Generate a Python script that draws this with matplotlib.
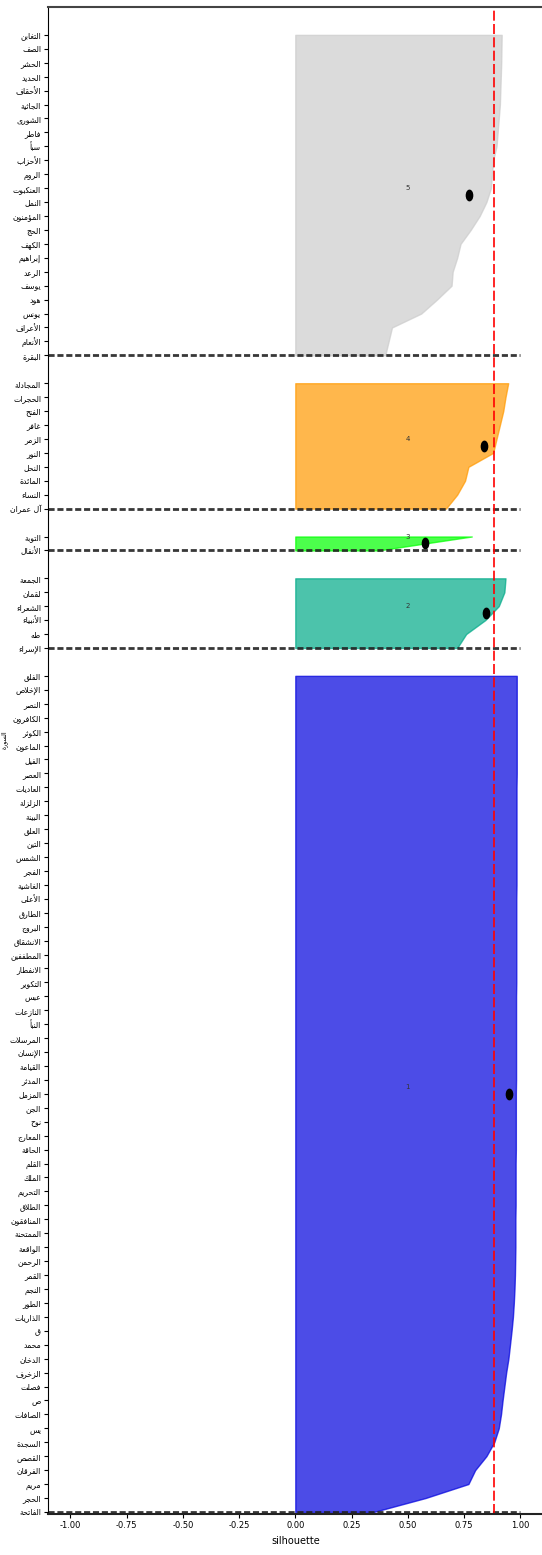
import numpy as np
import matplotlib
matplotlib.use("Agg")
import matplotlib.pyplot as plt
from matplotlib import cm
from matplotlib.path import Path

# ---------------- data (bottom -> top inside each cluster) ----------------
cluster_ids = [1, 2, 3, 4, 5]

names_c1 = ["الفاتحة", "الحجر", "مريم", "الفرقان", "القصص", "السجدة", "يس", "الصافات",
            "ص", "فصلت", "الزخرف", "الدخان", "محمد", "ق", "الذاريات", "الطور", "النجم",
            "القمر", "الرحمن", "الواقعة", "الممتحنة", "المنافقون", "الطلاق", "التحريم",
            "الملك", "القلم", "الحاقة", "المعارج", "نوح", "الجن", "المزمل", "المدثر",
            "القيامة", "الإنسان", "المرسلات", "النبأ", "النازعات", "عبس", "التكوير",
            "الانفطار", "المطففين", "الانشقاق", "البروج", "الطارق", "الأعلى", "الغاشية",
            "الفجر", "الشمس", "التين", "العلق", "البينة", "الزلزلة", "العاديات", "العصر",
            "الفيل", "الماعون", "الكوثر", "الكافرون", "النصر", "الإخلاص", "الفلق"]
names_c2 = ["الإسراء", "طه", "الأنبياء", "الشعراء", "لقمان", "الجمعة"]
names_c3 = ["الأنفال", "التوبة"]
names_c4 = ["آل عمران", "النساء", "المائدة", "النحل", "النور", "الزمر", "غافر", "الفتح",
            "الحجرات", "المجادلة"]
names_c5 = ["البقرة", "الأنعام", "الأعراف", "يونس", "هود", "يوسف", "الرعد", "إبراهيم",
            "الكهف", "الحج", "المؤمنون", "النمل", "العنكبوت", "الروم", "الأحزاب", "سبأ",
            "فاطر", "الشورى", "الجاثية", "الأحقاف", "الحديد", "الحشر", "الصف", "التغابن"]

sil_c1 = [0.35, 0.58, 0.77, 0.80, 0.85, 0.885, 0.905, 0.915, 0.922, 0.93, 0.938, 0.948,
          0.955, 0.962, 0.968, 0.972, 0.975, 0.977, 0.978, 0.979, 0.979, 0.979, 0.980,
          0.980, 0.980, 0.980, 0.981, 0.981, 0.981, 0.981, 0.981, 0.982, 0.982, 0.982,
          0.982, 0.982, 0.982, 0.982, 0.983, 0.983, 0.983, 0.983, 0.983, 0.983, 0.983,
          0.984, 0.984, 0.984, 0.984, 0.984, 0.984, 0.984, 0.984, 0.985, 0.985, 0.985,
          0.985, 0.985, 0.985, 0.985, 0.985]
sil_c2 = [0.72, 0.76, 0.845, 0.905, 0.93, 0.935]
sil_c3 = [0.37, 0.785]
sil_c4 = [0.67, 0.72, 0.755, 0.77, 0.88, 0.895, 0.91, 0.925, 0.935, 0.947]
sil_c5 = [0.40, 0.415, 0.43, 0.56, 0.63, 0.695, 0.70, 0.72, 0.735, 0.78, 0.82, 0.85,
          0.87, 0.875, 0.88, 0.895, 0.90, 0.905, 0.91, 0.912, 0.914, 0.916, 0.917, 0.918]

names_all = [names_c1, names_c2, names_c3, names_c4, names_c5]
sil_all = [sil_c1, sil_c2, sil_c3, sil_c4, sil_c5]

# ---------------- minimal Arabic shaping (presentation forms + RTL) ----------------
RIGHT_JOIN = {'\u0622': 0xFE81, '\u0623': 0xFE83, '\u0624': 0xFE85, '\u0625': 0xFE87,
              '\u0627': 0xFE8D, '\u0629': 0xFE93, '\u062F': 0xFEA9, '\u0630': 0xFEAB,
              '\u0631': 0xFEAD, '\u0632': 0xFEAF, '\u0648': 0xFEED, '\u0649': 0xFEEF}
DUAL_JOIN = {'\u0626': 0xFE89, '\u0628': 0xFE8F, '\u062A': 0xFE95, '\u062B': 0xFE99,
             '\u062C': 0xFE9D, '\u062D': 0xFEA1, '\u062E': 0xFEA5, '\u0633': 0xFEB1,
             '\u0634': 0xFEB5, '\u0635': 0xFEB9, '\u0636': 0xFEBD, '\u0637': 0xFEC1,
             '\u0638': 0xFEC5, '\u0639': 0xFEC9, '\u063A': 0xFECD, '\u0641': 0xFED1,
             '\u0642': 0xFED5, '\u0643': 0xFED9, '\u0644': 0xFEDD, '\u0645': 0xFEE1,
             '\u0646': 0xFEE5, '\u0647': 0xFEE9, '\u064A': 0xFEF1}
LAM_ALEF = {'\u0622': 0xFEF5, '\u0623': 0xFEF7, '\u0625': 0xFEF9, '\u0627': 0xFEFB}


def shape(text):
    chars = list(text)
    out = []
    prev_connects = False
    i = 0
    while i < len(chars):
        c = chars[i]
        nxt = chars[i + 1] if i + 1 < len(chars) else None
        if c == '\u0644' and nxt in LAM_ALEF:
            out.append(chr(LAM_ALEF[nxt] + (1 if prev_connects else 0)))
            prev_connects = False
            i += 2
            continue
        if c in DUAL_JOIN or c in RIGHT_JOIN:
            base = DUAL_JOIN.get(c, RIGHT_JOIN.get(c))
            can_next = (c in DUAL_JOIN and nxt is not None
                        and (nxt in DUAL_JOIN or nxt in RIGHT_JOIN))
            if prev_connects and can_next:
                form = 3
            elif prev_connects:
                form = 1
            elif can_next:
                form = 2
            else:
                form = 0
            out.append(chr(base + form))
            prev_connects = can_next
        else:
            out.append(c)
            prev_connects = False
        i += 1
    return ''.join(reversed(out))


# ---------------- figure ----------------
plt.rcParams['font.family'] = ['DejaVu Sans']
fig = plt.figure(figsize=(5.42, 15.55), dpi=100)
ax = fig.add_axes([48 / 542, 1 - 1514 / 1555, 494.6 / 542, (1514 - 7) / 1555])

ellipse = Path.unit_circle()
ellipse = Path(ellipse.vertices * np.array([0.6, 1.0]), ellipse.codes)

tick_pos = []
tick_lab = []
y_lower = 0
for k, names, vals in zip(cluster_ids, names_all, sil_all):
    n = len(vals)
    y_upper = y_lower + n
    ys = np.arange(y_lower, y_upper)
    color = cm.nipy_spectral(float(k) / len(cluster_ids))
    ax.fill_betweenx(ys, 0, vals, facecolor=color, edgecolor=color, alpha=0.7)
    ax.text(0.5, y_lower + 0.5 * n, str(k), fontsize=5, color='#333333',
            ha='center', va='center')
    ax.plot([np.mean(vals)], [np.mean(ys)], linestyle='none', marker=ellipse,
            markersize=7.5, color='black')
    ax.hlines(y_lower, -1.1, 1.0, colors='#222222', linestyles=(0, (2.2, 1.0)),
              linewidth=2.0, alpha=0.9)
    tick_pos.extend(list(ys))
    tick_lab.extend([shape(s) for s in names])
    y_lower = y_upper + 1

avg = np.mean(np.concatenate([np.asarray(v) for v in sil_all]))
ax.axvline(avg, color='red', linestyle=(0, (6, 2)), linewidth=1.2)

ax.set_xlim(-1.1, 1.1)
ax.set_ylim(-0.15, 108)
ax.set_yticks(tick_pos)
ax.set_yticklabels(tick_lab, fontsize=5.6)
ax.set_xticks([-1.0, -0.75, -0.5, -0.25, 0.0, 0.25, 0.5, 0.75, 1.0])
ax.set_xticklabels(['-1.00', '-0.75', '-0.50', '-0.25', '0.00', '0.25', '0.50', '0.75', '1.00'],
                   fontsize=6)
ax.tick_params(axis='both', length=3, width=0.8, pad=2)
ax.set_xlabel('silhouette', fontsize=7, labelpad=4)
ax.set_ylabel(shape('السورة'), fontsize=4.5)
ax.yaxis.set_label_coords(-0.082, 0.514)
ax.spines['top'].set_linewidth(1.5)
ax.spines['top'].set_color('#444444')
ax.spines['bottom'].set_linewidth(1.5)
ax.spines['bottom'].set_color('#222222')
ax.spines['left'].set_linewidth(0.8)
ax.spines['right'].set_visible(False)

fig.savefig('out.png', dpi=100)
